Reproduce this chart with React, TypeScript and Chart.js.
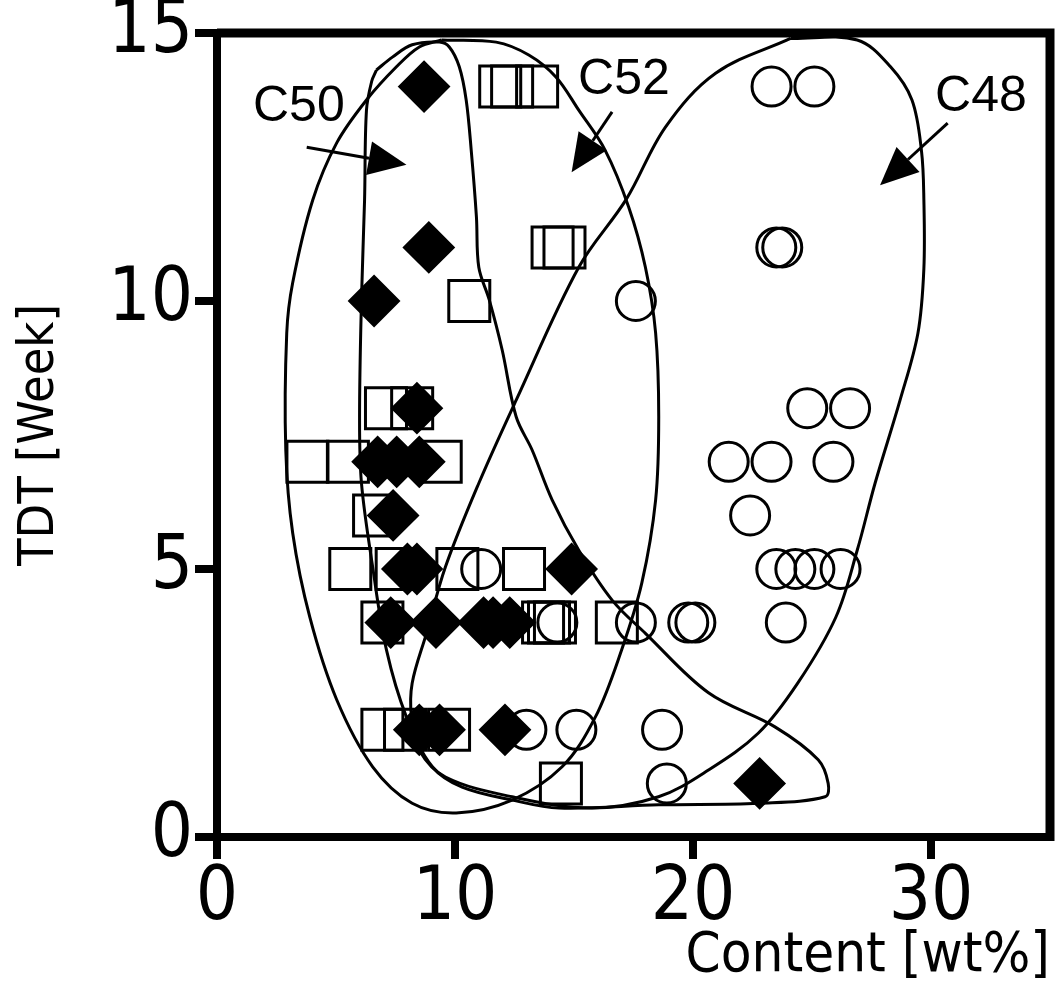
import React, { useEffect, useRef } from 'react';
import { Chart, registerables } from 'chart.js';

Chart.register(...registerables);

// ---------- axes ----------
const xTickValues = [0, 10, 20, 30];
const yTickValues = [0, 5, 10, 15];
const xRange = [0, 35];
const yRange = [0, 15];

// ---------- data series: [content wt%, TDT week] ----------
const diamondPoints: [number, number][] = [
  [8.7, 14], [8.9, 11], [6.6, 10], [8.4, 8],
  [6.75, 7], [7.55, 7], [8.5, 7], [7.4, 6],
  [8.0, 5], [8.4, 5], [14.9, 5],
  [7.3, 4], [9.2, 4], [11.2, 4], [11.6, 4], [12.3, 4],
  [8.5, 2], [9.35, 2], [12.1, 2], [22.8, 1],
];

const squarePoints: [number, number][] = [
  [11.9, 14], [12.4, 14], [13.45, 14],
  [14.1, 11], [14.6, 11],
  [10.6, 10],
  [7.1, 8], [8.2, 8],
  [3.8, 7], [5.5, 7], [9.4, 7],
  [6.6, 6],
  [5.6, 5], [7.55, 5], [10.1, 5], [12.9, 5],
  [6.95, 4], [13.7, 4], [13.95, 4], [14.2, 4], [16.8, 4],
  [6.95, 2], [7.9, 2], [9.75, 2],
  [14.45, 1],
];

const circlePoints: [number, number][] = [
  [23.3, 14], [25.1, 14],
  [23.5, 11], [23.75, 11],
  [17.6, 10],
  [24.8, 8], [26.6, 8],
  [21.5, 7], [23.3, 7], [25.9, 7],
  [22.4, 6],
  [11.1, 5], [23.5, 5], [24.3, 5], [25.1, 5], [26.2, 5],
  [14.3, 4], [17.6, 4], [19.8, 4], [20.1, 4], [23.9, 4],
  [13.0, 2], [15.1, 2], [18.7, 2],
  [18.9, 1],
];

// ---------- group outlines (closed curves) ----------
const outlineC50: [number, number][] = [
  [6.7, 14.31], [7.37, 14.55], [8.2, 14.78], [9.34, 14.83], [9.76, 14.74],
  [10.18, 14.37], [10.47, 13.75], [10.68, 12.82], [10.9, 11.57], [11.0, 10.63],
  [11.44, 10.02], [11.98, 9.09], [12.57, 7.84], [13.24, 7.22], [14.08, 6.29],
  [15.2, 5.35], [16.6, 4.42], [18.0, 3.8], [20.65, 2.69], [23.46, 2.05],
  [25.26, 1.44], [25.68, 1.0], [25.55, 0.75], [22.75, 0.63], [18.56, 0.6],
  [14.37, 0.54], [12.4, 0.69], [10.3, 0.93], [9.05, 1.31], [7.96, 2.24],
  [7.12, 3.49], [6.54, 5.04], [6.07, 6.6], [5.99, 7.84], [6.07, 10.02],
  [6.2, 11.88], [6.28, 13.56], [6.5, 14.1], [6.7, 14.31],
];

const outlineC52: [number, number][] = [
  [9.43, 14.87], [11.73, 14.83], [13.1, 14.59], [14.24, 14.18], [15.2, 13.56],
  [16.3, 12.82], [17.3, 11.75], [18.0, 10.63], [18.43, 9.4], [18.56, 7.84],
  [18.43, 6.29], [17.85, 4.74], [17.0, 3.49], [15.9, 2.24], [14.5, 1.31],
  [12.4, 0.69], [10.05, 0.45], [8.2, 0.63], [6.54, 1.31], [5.03, 2.56],
  [3.9, 4.1], [3.18, 5.67], [2.89, 7.22], [2.93, 9.4], [3.18, 10.34],
  [4.02, 11.88], [5.03, 12.95], [6.28, 13.75], [7.54, 14.37], [8.5, 14.74],
  [9.43, 14.87],
];

const outlineC48: [number, number][] = [
  [24.1, 14.9], [26.9, 14.87], [28.3, 14.37], [29.2, 13.75], [29.6, 12.8],
  [29.7, 11.9], [29.7, 10.6], [29.45, 9.4], [28.7, 8.15], [27.65, 6.6],
  [26.9, 5.35], [26.0, 4.1], [24.4, 2.87], [22.75, 1.94], [20.65, 1.25],
  [18.55, 0.75], [15.75, 0.54], [12.4, 0.75], [9.6, 1.12], [8.5, 1.62],
  [8.17, 2.24], [8.2, 2.87], [8.8, 3.8], [9.6, 5.04], [11.0, 6.6],
  [12.57, 8.15], [15.2, 10.63], [17.2, 11.9], [18.85, 13.25], [20.95, 14.25],
  [24.1, 14.9],
];

// ---------- annotations (data units) ----------
const annotationTexts = ['C50', 'C52', 'C48'];
const annotationLabelPos: [number, number][] = [[3.44, 13.62], [17.1, 14.12], [32.1, 13.8]];
const annotationArrowTail: [number, number][] = [[3.77, 12.87], [16.6, 13.53], [30.7, 13.32]];
const annotationArrowTip: [number, number][] = [[7.96, 12.54], [14.9, 12.4], [27.86, 12.16]];

const NARROW = "'DejaVu Sans Condensed', 'DejaVu Sans', sans-serif";
const REGULAR = "'Liberation Sans', Arial, sans-serif";

const toXY = (pts: [number, number][]) => pts.map(([x, y]) => ({ x, y }));

const zeroPadding = () => ({ left: 0, top: 0, right: 0, bottom: 0 });

const framePlugin = {
  id: 'frame',
  afterDraw(chart: any) {
    const { ctx, chartArea } = chart;
    ctx.save();
    ctx.strokeStyle = '#000';
    ctx.lineWidth = 9;
    ctx.lineCap = 'butt';
    ctx.beginPath();
    ctx.moveTo(chartArea.left, chartArea.top);
    ctx.lineTo(chartArea.right, chartArea.top);
    ctx.lineTo(chartArea.right, chartArea.bottom + 4);
    ctx.stroke();
    ctx.restore();
  },
};

const annotationPlugin = {
  id: 'groupLabels',
  afterDatasetsDraw(chart: any) {
    const { ctx } = chart;
    const xs = chart.scales.x;
    const ys = chart.scales.y;
    ctx.save();
    ctx.fillStyle = '#000';
    ctx.strokeStyle = '#000';
    ctx.font = `50px ${REGULAR}`;
    ctx.textAlign = 'center';
    ctx.textBaseline = 'middle';
    annotationTexts.forEach((text, i) => {
      const lx = xs.getPixelForValue(annotationLabelPos[i][0]);
      const ly = ys.getPixelForValue(annotationLabelPos[i][1]);
      ctx.fillText(text, lx, ly);
      const tx = xs.getPixelForValue(annotationArrowTail[i][0]);
      const ty = ys.getPixelForValue(annotationArrowTail[i][1]);
      const hx = xs.getPixelForValue(annotationArrowTip[i][0]);
      const hy = ys.getPixelForValue(annotationArrowTip[i][1]);
      const ang = Math.atan2(hy - ty, hx - tx);
      const headLen = 38;
      const headHalf = 17;
      const bx = hx - headLen * Math.cos(ang);
      const by = hy - headLen * Math.sin(ang);
      ctx.lineWidth = 3;
      ctx.beginPath();
      ctx.moveTo(tx, ty);
      ctx.lineTo(bx, by);
      ctx.stroke();
      ctx.beginPath();
      ctx.moveTo(hx, hy);
      ctx.lineTo(bx + headHalf * Math.sin(ang), by - headHalf * Math.cos(ang));
      ctx.lineTo(bx - headHalf * Math.sin(ang), by + headHalf * Math.cos(ang));
      ctx.closePath();
      ctx.fill();
    });
    ctx.restore();
  },
};

const outlineDataset = (pts: [number, number][], label: string) => ({
  label,
  data: toXY(pts),
  showLine: true,
  pointRadius: 0,
  borderColor: '#000',
  borderWidth: 3,
  tension: 0.35,
  fill: false,
  order: 3,
});

export default function App() {
  const canvasRef = useRef<HTMLCanvasElement | null>(null);

  useEffect(() => {
    document.body.style.margin = '0';
    document.body.style.overflow = 'hidden';
    const canvas = canvasRef.current;
    if (!canvas) return;
    const chart = new Chart(canvas, {
      type: 'scatter',
      data: {
        datasets: [
          {
            label: 'diamonds',
            data: toXY(diamondPoints),
            pointStyle: 'rectRot',
            pointRadius: 25,
            backgroundColor: '#000',
            borderColor: '#000',
            borderWidth: 2,
            order: 0,
          } as any,
          {
            label: 'squares',
            data: toXY(squarePoints),
            pointStyle: 'rect',
            pointRadius: 29,
            backgroundColor: 'rgba(0,0,0,0)',
            borderColor: '#000',
            borderWidth: 3,
            order: 1,
          },
          {
            label: 'circles',
            data: toXY(circlePoints),
            pointStyle: 'circle',
            pointRadius: 19.5,
            backgroundColor: 'rgba(0,0,0,0)',
            borderColor: '#000',
            borderWidth: 3,
            order: 2,
          },
          outlineDataset(outlineC50, 'C50'),
          outlineDataset(outlineC52, 'C52'),
          outlineDataset(outlineC48, 'C48'),
        ] as any,
      },
      options: {
        responsive: false,
        animation: false,
        devicePixelRatio: 1,
        events: [],
        layout: { autoPadding: false, padding: { top: 33, right: 10, left: 0, bottom: 0 } },
        plugins: {
          legend: { display: false },
          tooltip: { enabled: false },
        },
        scales: {
          x: {
            type: 'linear',
            min: xRange[0],
            max: xRange[1],
            afterBuildTicks: (s: any) => {
              s.ticks = xTickValues.map((v) => ({ value: v }));
            },
            afterFit: (s: any) => {
              s.height = 147;
              s.paddingLeft = 0;
              s.paddingRight = 0;
              s.paddingTop = 0;
              s.paddingBottom = 0;
              s.getPadding = zeroPadding;
            },
            grid: {
              display: true,
              drawOnChartArea: false,
              drawTicks: true,
              tickLength: 22,
              tickWidth: 8,
              tickColor: '#000',
              lineWidth: 8,
              color: '#000',
            },
            border: { display: true, width: 8, color: '#000' },
            ticks: {
              color: '#000',
              autoSkip: false,
              maxRotation: 0,
              padding: 4,
              font: { family: NARROW, size: 74, weight: 'normal', lineHeight: 1 },
            },
            title: {
              display: true,
              text: 'Content [wt%]',
              align: 'end',
              color: '#000',
              padding: 0,
              font: { family: NARROW, size: 56, weight: 'normal', lineHeight: 1 },
            },
          },
          y: {
            type: 'linear',
            min: yRange[0],
            max: yRange[1],
            afterBuildTicks: (s: any) => {
              s.ticks = yTickValues.map((v) => ({ value: v }));
            },
            afterFit: (s: any) => {
              s.width = 217;
              s.paddingLeft = 0;
              s.paddingRight = 0;
              s.paddingTop = 0;
              s.paddingBottom = 0;
              s.getPadding = zeroPadding;
            },
            grid: {
              display: true,
              drawOnChartArea: false,
              drawTicks: true,
              tickLength: 22,
              tickWidth: 8,
              tickColor: '#000',
              lineWidth: 8,
              color: '#000',
            },
            border: { display: true, width: 8, color: '#000' },
            ticks: {
              color: '#000',
              autoSkip: false,
              padding: 2,
              font: { family: NARROW, size: 74, weight: 'normal', lineHeight: 1 },
            },
            title: {
              display: true,
              text: 'TDT [Week]',
              color: '#000',
              padding: { top: 10, bottom: 0 },
              font: { family: NARROW, size: 50, weight: 'normal', lineHeight: 1.2 },
            },
          },
        },
      } as any,
      plugins: [framePlugin, annotationPlugin],
    });
    return () => chart.destroy();
  }, []);

  return (
    <div style={{ width: 1060, height: 984 }}>
      <canvas ref={canvasRef} width={1060} height={984} style={{ display: 'block' }} />
    </div>
  );
}
